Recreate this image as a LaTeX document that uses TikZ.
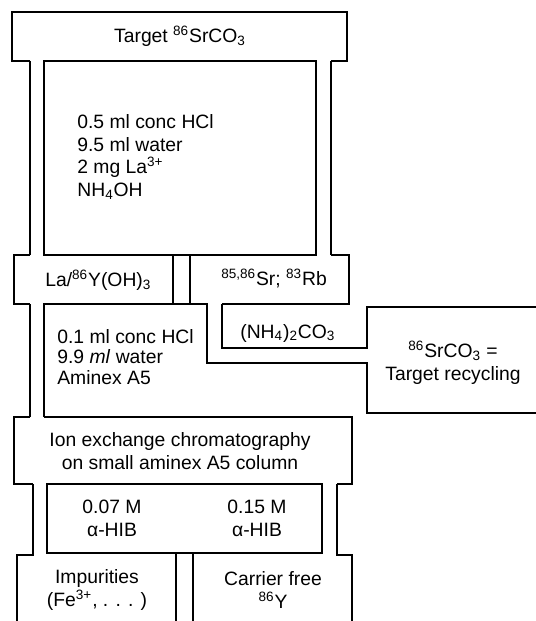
\documentclass[tikz,border=0pt]{standalone}
\usepackage{fontspec}
\setmainfont{Liberation Sans}
\begin{document}
\begin{tikzpicture}[
    x=0.02cm, y=-0.02cm,
    wall/.style={line width=0.8pt, line join=miter},
    txt/.style={font=\fontsize{11}{13}\selectfont, inner sep=0pt}
]
    \useasboundingbox (0,0) rectangle (536,621);

    % Target box
    \draw[wall] (30,61) -- (12,61) -- (12,12) -- (347,12) -- (347,61) -- (331,61);
    \node[txt] (target) at (180,36) {Target \textsuperscript{86}SrCO\textsubscript{3}};

    % Dissolution box between the two channels
    \draw[wall] (44,61) rectangle (316,255);
    \draw[wall] (30,61) -- (30,255);
    \draw[wall] (331,61) -- (331,255);
    \node[txt, align=left, anchor=west] (acid) at (77,157)
        {0.5 ml conc HCl\\9.5 ml water\\2 mg La\textsuperscript{3+}\\NH\textsubscript{4}OH};

    % Precipitate
    \draw[wall] (30,255) -- (14,255) -- (14,304) -- (30,304);
    \draw[wall] (173,255) -- (173,304);
    \node[txt, anchor=west] (hydrox) at (45,280) {La/\textsuperscript{86}Y(OH)\textsubscript{3}};

    % Filtrate
    \draw[wall] (207,304) -- (190,304) -- (190,255);
    \draw[wall] (331,255) -- (349,255) -- (349,304) -- (222,304);
    \node[txt, anchor=west] (srrb) at (221,279) {\textsuperscript{85,86}Sr; \textsuperscript{83}Rb};

    % Second dissolution and channel to recycling
    \draw[wall] (44,417) -- (44,304) -- (207,304) -- (207,363) -- (367,363) -- (367,413) -- (536,413);
    \draw[wall] (30,304) -- (30,417);
    \node[txt, align=left, anchor=west, font=\fontsize{11}{11.5}\selectfont] (dissolve) at (57,357)
        {0.1 ml conc HCl\\9.9 \textit{ml} water\\Aminex A5};

    % Carbonate precipitation
    \draw[wall] (222,304) -- (222,348) -- (367,348) -- (367,307) -- (536,307);
    \node[txt, anchor=west] (carb) at (240,333) {(NH\textsubscript{4})\textsubscript{2}CO\textsubscript{3}};
    \node[txt, align=center] (recycle) at (453,363) {\textsuperscript{86}SrCO\textsubscript{3} =\\Target recycling};

    % Column
    \draw[wall] (44,417) -- (352,417) -- (352,484) -- (337,484);
    \draw[wall] (30,417) -- (14,417) -- (14,484) -- (33,484);
    \node[txt, align=center] (column) at (180,451) {Ion exchange chromatography\\on small aminex A5 column};

    % Eluents
    \draw[wall] (47,484) rectangle (322,553);
    \node[txt, align=center] (elutA) at (112,518) {0.07 M\\α-HIB};
    \node[txt, align=center] (elutB) at (257,518) {0.15 M\\α-HIB};

    % Fractions
    \draw[wall] (33,484) -- (33,555) -- (17,555) -- (17,621);
    \draw[wall] (337,484) -- (337,555) -- (352,555) -- (352,621);
    \draw[wall] (176,553) -- (176,621);
    \draw[wall] (193,553) -- (193,621);
    \node[txt, align=center] (impur) at (97,590) {Impurities\\(Fe\textsuperscript{3+}, . . . )};
    \node[txt, align=center] (cfree) at (273,590) {Carrier free\\\textsuperscript{86}Y};
\end{tikzpicture}
\end{document}
